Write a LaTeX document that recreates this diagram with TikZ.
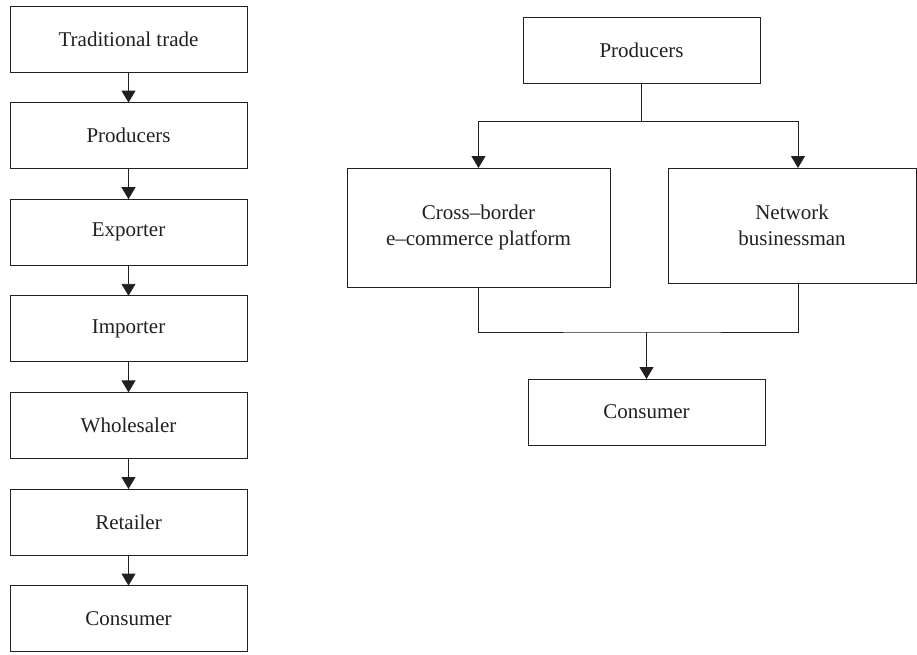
\documentclass[tikz,border=0pt]{standalone}
\usepackage{fontspec}
\setmainfont{Liberation Serif}
\usepackage{tikz}
\usetikzlibrary{arrows.meta,positioning}
\definecolor{tinta}{HTML}{231F20}
\tikzset{
  caja/.style={rectangle,draw=tinta,line width=0.9pt,text=tinta,outer sep=0pt,
    minimum width=237pt,minimum height=66pt,align=center,inner sep=2pt},
  flecha/.style={-{Triangle[length=12pt,width=14pt]},line width=0.9pt,draw=tinta},
  linea/.style={line width=0.9pt,draw=tinta}
}

\begin{document}
\begin{tikzpicture}[font=\fontsize{21}{26}\selectfont,node distance=30.6pt]
\useasboundingbox (0,0) rectangle (917pt,-654pt);
% cadena tradicional
\node[caja] (trad) at (128.5pt,-39pt) {Traditional trade};
\node[caja,below=of trad] (prod) {Producers};
\node[caja,below=of prod] (expo) {Exporter};
\node[caja,below=of expo] (impo) {Importer};
\node[caja,below=of impo] (whol) {Wholesaler};
\node[caja,below=of whol] (reta) {Retailer};
\node[caja,below=of reta] (cons) {Consumer};
\draw[flecha](trad)--(prod);
\draw[flecha](prod)--(expo);
\draw[flecha](expo)--(impo);
\draw[flecha](impo)--(whol);
\draw[flecha](whol)--(reta);
\draw[flecha](reta)--(cons);
% comercio electronico transfronterizo
\node[caja] (prodR) at (641.5pt,-50pt) {Producers};
\node[caja,minimum width=263pt,minimum height=119pt] (cbec) at (478.5pt,-227.5pt) {Cross--border\\e--commerce platform};
\node[caja,minimum width=248pt,minimum height=115pt] (net) at (792pt,-225.5pt) {Network\\businessman};
\node[caja] (consR) at (646.5pt,-412pt) {Consumer};
\draw[linea](prodR.south)--++(0,-38pt) coordinate (split);
\draw[flecha](split)-|(cbec.north);
\draw[flecha](split)-|([xshift=6pt]net.north);
\coordinate (merge) at (646.5pt,-332pt);
\draw[linea](cbec.south)|-(merge)-|([xshift=6pt]net.south);
\draw[flecha](merge)--(consR);
\end{tikzpicture}
\end{document}
